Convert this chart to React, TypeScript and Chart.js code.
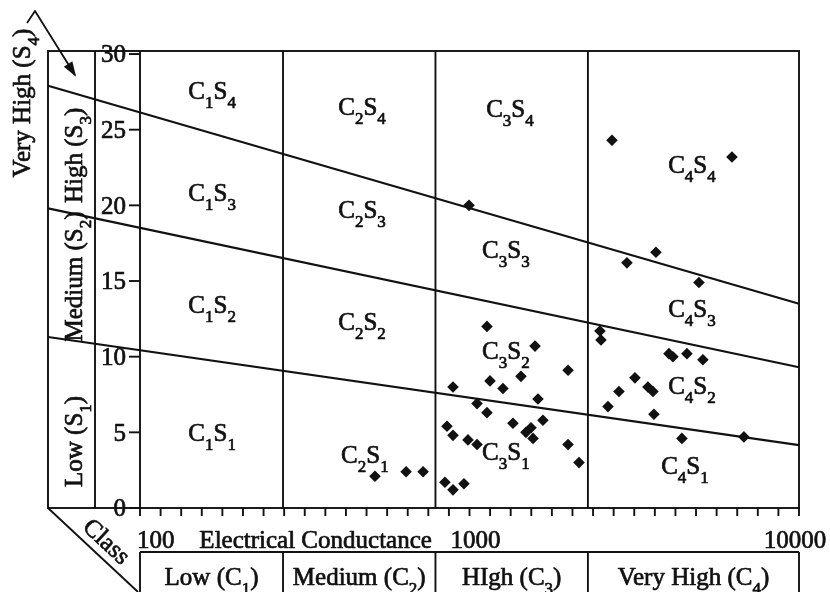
import React, { useEffect, useRef } from "react";
import { Chart, registerables } from "chart.js";

Chart.register(...registerables);

// ---- Water samples: electrical conductance (µS/cm) and sodium adsorption ratio ----
const sampleEC = [
  485, 607, 686,
  955, 1087, 1537, 1950, 1111, 1220, 1389, 851, 1012, 1087, 1570, 1311, 1627, 1493, 1440, 1515,
  815, 851, 948, 1012, 1950, 2110, 803, 851, 921,
  2676, 6353, 3674, 2981, 5008, 2454, 2472, 4035, 4153, 4593, 5153, 3158, 2814, 3467, 3595,
  2600, 3621, 4430, 6925,
];
const sampleSAR = [
  2.1, 2.4, 2.4,
  20.0, 12.0, 10.7, 9.1, 8.4, 7.9, 8.7, 8.0, 6.9, 6.3, 7.2, 5.6, 5.8, 5.3, 5.0, 4.6,
  5.4, 4.8, 4.5, 4.2, 4.2, 3.0, 1.7, 1.2, 1.6,
  24.3, 23.2, 16.9, 16.2, 14.9, 11.7, 11.1, 10.2, 10.0, 10.2, 9.8, 8.6, 7.7, 8.0, 7.7,
  6.7, 6.2, 4.6, 4.7,
];

// ---- Sodium hazard boundaries (SAR at the two ends of the drawn EC span) ----
const boundaryEC = [46, 10300];
const s1s2SAR = [11.3, 4.15];
const s2s3SAR = [19.8, 9.3];
const s3s4SAR = [27.9, 13.5];

// ---- Axes ----
const EC_MIN = 89.2;
const EC_MAX = 10300;
const SAR_MIN = 0;
const SAR_MAX = 30.2;
const xTickValues = [100, 1000, 10000];
const yTickValues = [0, 5, 10, 15, 20, 25, 30];
const xAxisTitle = "Electrical Conductance";
const classTitle = "Class";

// ---- Classes ----
const classLimitsEC = [250, 750, 2250];
const salinityClasses = ["Low (C_1)", "Medium (C_2)", "HIgh (C_3)", "Very High (C_4)"];
const sodiumClasses = ["Low (S_1)", "Medium (S_2)", "High (S_3)"];
const sodiumClassSAR = [4.4, 15.3, 23.3];
const topSodiumClass = "Very High (S_4)";

// ---- Zone labels ----
const zoneNames = [
  "C_1S_4", "C_2S_4", "C_3S_4", "C_4S_4",
  "C_1S_3", "C_2S_3", "C_3S_3", "C_4S_3",
  "C_1S_2", "C_2S_2", "C_3S_2", "C_4S_2",
  "C_1S_1", "C_2S_1", "C_3S_1", "C_4S_1",
];
const zoneEC = [
  150, 442, 1283, 4762,
  150, 442, 1246, 4762,
  150, 442, 1246, 4762,
  150, 451, 1246, 4528,
];
const zoneSAR = [
  27.6, 26.5, 26.4, 22.7,
  20.8, 19.7, 17.05, 13.2,
  13.4, 12.3, 10.4, 8.1,
  5.0, 3.5, 3.7, 2.8,
];

const INK = "#111";
const FONT = "'Liberation Serif', 'Times New Roman', serif";
const MAIN_SIZE = 25;

type Part = { t: string; sub: boolean };
function parseRich(s: string): Part[] {
  const parts: Part[] = [];
  let buf = "";
  for (let i = 0; i < s.length; i++) {
    if (s[i] === "_" && i + 1 < s.length) {
      if (buf) parts.push({ t: buf, sub: false });
      buf = "";
      parts.push({ t: s[i + 1], sub: true });
      i++;
    } else buf += s[i];
  }
  if (buf) parts.push({ t: buf, sub: false });
  return parts;
}

function drawRich(ctx: CanvasRenderingContext2D, s: string, x: number, y: number, size: number, align = "center") {
  const parts = parseRich(s);
  const subSize = Math.round(size * 0.68);
  const mainFont = `${size}px ${FONT}`;
  const subFont = `${subSize}px ${FONT}`;
  let w = 0;
  for (const p of parts) {
    ctx.font = p.sub ? subFont : mainFont;
    w += ctx.measureText(p.t).width;
  }
  let cx = align === "center" ? x - w / 2 : align === "right" ? x - w : x;
  ctx.textAlign = "left";
  ctx.textBaseline = "alphabetic";
  const base = y + size * 0.33;
  ctx.lineWidth = 0.7;
  ctx.lineJoin = "round";
  for (const p of parts) {
    ctx.font = p.sub ? subFont : mainFont;
    const by = p.sub ? base + size * 0.36 : base;
    ctx.fillText(p.t, cx, by);
    ctx.strokeText(p.t, cx, by);
    cx += ctx.measureText(p.t).width;
  }
}

const diagramPlugin = {
  id: "ussl-diagram",
  afterDatasetsDraw(chart: any) {
    const { ctx, chartArea: a, scales } = chart;
    const xs = scales.x;
    const ys = scales.y;
    const L = a.left, R = a.right, T = a.top, B = a.bottom;
    const H = chart.height;
    const colOuter = L - 92;
    const colInner = L - 45;
    const boxTop = B + 44;
    const LW = 1.9;

    const line = (x1: number, y1: number, x2: number, y2: number) => {
      ctx.beginPath();
      ctx.moveTo(x1, y1);
      ctx.lineTo(x2, y2);
      ctx.stroke();
    };

    ctx.save();
    ctx.strokeStyle = INK;
    ctx.fillStyle = INK;
    ctx.lineWidth = LW;
    ctx.lineCap = "butt";

    // outer frame and columns
    ctx.strokeRect(colOuter, T, R - colOuter, B - T);
    line(colInner, T, colInner, B);
    line(L, T, L, B);

    // salinity class dividers
    for (const v of classLimitsEC) {
      const px = xs.getPixelForValue(v);
      line(px, T, px, B);
      line(px, boxTop, px, H);
    }

    // bottom class boxes
    line(L, boxTop, R, boxTop);
    line(L, boxTop, L, H);
    line(R, boxTop, R, H);

    // diagonal "Class" line
    line(colOuter, B, L - 2, H);

    // decorative ticks along the EC axis
    const nTicks = 32;
    for (let i = 0; i <= nTicks; i++) {
      const px = L + ((R - L) * i) / nTicks;
      line(px, B, px, B + 8);
    }

    // y ticks and labels
    for (const v of yTickValues) {
      const py = ys.getPixelForValue(v);
      ctx.lineWidth = LW;
      line(L - 11, py, L, py);
      drawRich(ctx, String(v), L - 14, py, MAIN_SIZE, "right");
    }

    // x tick labels
    for (const v of xTickValues) {
      drawRich(ctx, String(v), xs.getPixelForValue(v), B + 32, MAIN_SIZE, "center");
    }
    drawRich(ctx, xAxisTitle, xs.getPixelForValue(Math.sqrt(xTickValues[0] * xTickValues[1])), B + 32, MAIN_SIZE, "center");

    // salinity class labels
    const edges = [L, ...classLimitsEC.map((v) => xs.getPixelForValue(v)), R];
    salinityClasses.forEach((lab, i) => {
      drawRich(ctx, lab, (edges[i] + edges[i + 1]) / 2, B + 69, MAIN_SIZE, "center");
    });

    // sodium class labels (rotated)
    const colMid = (colOuter + colInner) / 2 + 2;
    sodiumClasses.forEach((lab, i) => {
      ctx.save();
      ctx.translate(colMid, ys.getPixelForValue(sodiumClassSAR[i]));
      ctx.rotate(-Math.PI / 2);
      drawRich(ctx, lab, 0, 0, MAIN_SIZE, "center");
      ctx.restore();
    });
    ctx.save();
    ctx.translate(colOuter - 26, T + 52);
    ctx.rotate(-Math.PI / 2);
    drawRich(ctx, topSodiumClass, 0, 0, MAIN_SIZE, "center");
    ctx.restore();

    // arrow to the S4 cell
    const ax0 = colOuter - 21, ay0 = T - 28;
    const ax1 = colOuter - 13, ay1 = T - 40;
    const ax2 = colOuter + 27, ay2 = T + 24;
    ctx.lineWidth = 1.8;
    ctx.beginPath();
    ctx.moveTo(ax0, ay0);
    ctx.lineTo(ax1, ay1);
    ctx.lineTo(ax2, ay2);
    ctx.stroke();
    const ang = Math.atan2(ay2 - ay1, ax2 - ax1);
    const hl = 13, hw = 5;
    ctx.beginPath();
    ctx.moveTo(ax2 + 2 * Math.cos(ang), ay2 + 2 * Math.sin(ang));
    ctx.lineTo(ax2 - hl * Math.cos(ang) + hw * Math.sin(ang), ay2 - hl * Math.sin(ang) - hw * Math.cos(ang));
    ctx.lineTo(ax2 - hl * Math.cos(ang) - hw * Math.sin(ang), ay2 - hl * Math.sin(ang) + hw * Math.cos(ang));
    ctx.closePath();
    ctx.fill();

    // "Class" along the diagonal
    ctx.save();
    ctx.translate(L - 33, B + 33);
    ctx.rotate(Math.atan2(H - B, L - 2 - colOuter));
    drawRich(ctx, classTitle, 0, 0, MAIN_SIZE, "center");
    ctx.restore();

    // zone labels
    zoneNames.forEach((nm, i) => {
      drawRich(ctx, nm, xs.getPixelForValue(zoneEC[i]), ys.getPixelForValue(zoneSAR[i]), MAIN_SIZE, "center");
    });

    ctx.restore();
  },
};

export default function App() {
  const ref = useRef<HTMLCanvasElement | null>(null);

  useEffect(() => {
    if (!ref.current) return;
    const boundary = (vals: number[]) => ({
      type: "line" as const,
      data: boundaryEC.map((x, i) => ({ x, y: vals[i] })),
      borderColor: INK,
      borderWidth: 2.2,
      pointRadius: 0,
      fill: false,
      clip: false as any,
      tension: 0,
    });
    const chart = new Chart(ref.current, {
      type: "scatter",
      data: {
        datasets: [
          boundary(s1s2SAR),
          boundary(s2s3SAR),
          boundary(s3s4SAR),
          {
            type: "scatter",
            data: sampleEC.map((x, i) => ({ x, y: sampleSAR[i] })),
            pointStyle: "rectRot",
            pointRadius: 5.8,
            backgroundColor: INK,
            borderColor: INK,
            borderWidth: 0,
          } as any,
        ],
      },
      options: {
        animation: false,
        responsive: false,
        devicePixelRatio: 1,
        events: [],
        layout: { padding: { left: 140, right: 31, top: 51, bottom: 84 } },
        plugins: { legend: { display: false }, tooltip: { enabled: false } },
        scales: {
          x: { type: "logarithmic", min: EC_MIN, max: EC_MAX, display: false },
          y: { type: "linear", min: SAR_MIN, max: SAR_MAX, display: false },
        },
      },
      plugins: [diagramPlugin],
    });
    return () => chart.destroy();
  }, []);

  return (
    <div style={{ position: "fixed", left: 0, top: 0, width: 830, height: 592, background: "#fff" }}>
      <canvas ref={ref} width={830} height={592} />
    </div>
  );
}
